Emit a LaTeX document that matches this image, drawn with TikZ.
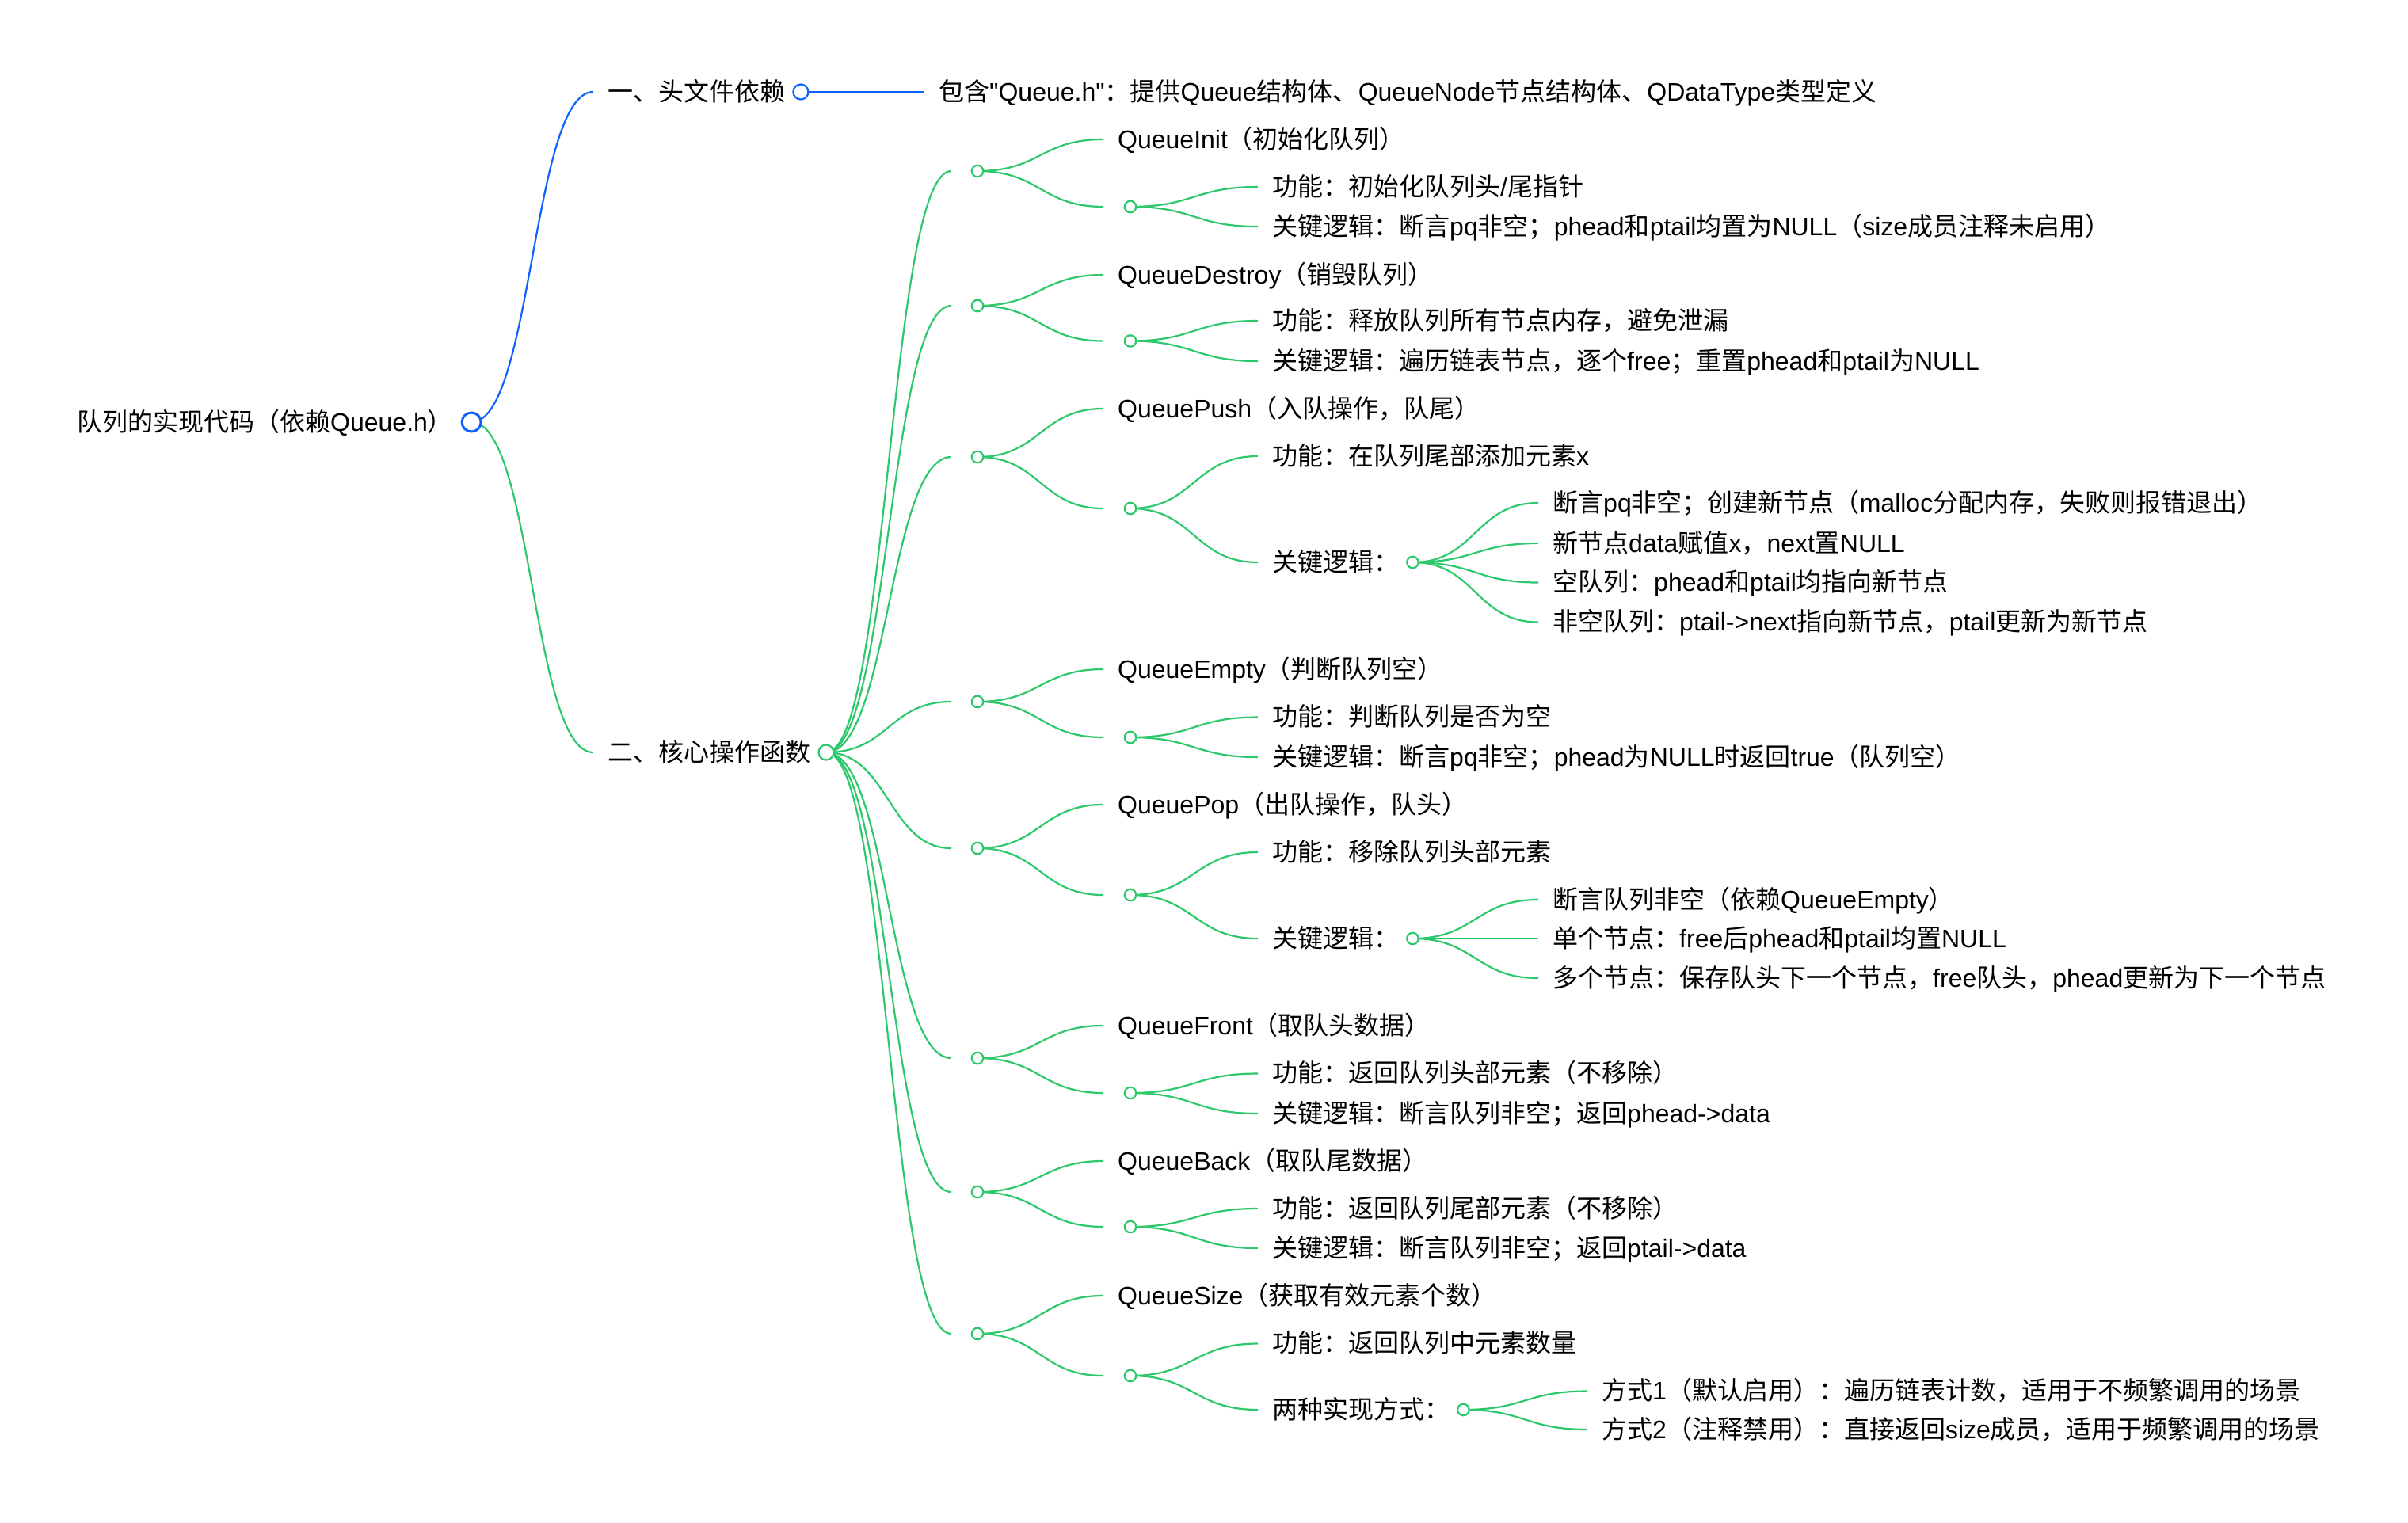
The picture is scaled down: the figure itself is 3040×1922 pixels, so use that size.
\documentclass[tikz,border=0pt]{standalone}
\usepackage{fontspec}
\setmainfont{Liberation Sans}[Ligatures=TeXOff]
\newfontfamily\latinfont{Liberation Sans}[Ligatures=TeXOff]
\newfontfamily\cjkfont{Noto Sans CJK SC}[Ligatures=TeXOff]
\usetikzlibrary{calc}
\pgfdeclarelayer{bg}
\pgfsetlayers{bg,main}
\XeTeXinterchartokenstate=1
\newXeTeXintercharclass\CJKcls
\newcount\cjkc
\def\setcjkrange#1#2{\cjkc=#1\relax\loop\XeTeXcharclass\cjkc=\CJKcls\relax\advance\cjkc by 1\relax\ifnum\cjkc<#2\relax\repeat}
\setcjkrange{"3000}{"3040}
\setcjkrange{"4E00}{"A000}
\setcjkrange{"FF00}{"FFF0}
\XeTeXinterchartoks 0 \CJKcls = {\cjkfont}
\XeTeXinterchartoks 4095 \CJKcls = {\cjkfont}
\XeTeXinterchartoks \CJKcls 0 = {\latinfont}
\definecolor{mgreen}{HTML}{2DC86B}
\definecolor{mblue}{HTML}{1062FE}
\newcommand\lk[3]{\begin{pgfonlayer}{bg}\draw[link,#3] let \p1=(#1), \p2=(#2) in (\p1) .. controls ({0.5*\x1+0.5*\x2},\y1) and ({0.5*\x1+0.5*\x2},\y2) .. (\p2);\end{pgfonlayer}}
\newcommand\cnode[5]{\node[txt] (#2) at (#3+18,#4) {#5};\lk{#1}{[xshift=-18pt]#2.west}{mgreen}}
\newcommand\gnode[5]{%
 \coordinate (#1e) at (1201,#2);
 \node[dot,draw=mgreen] (#1c) at (1234,#2) {};
 \node[txt] (#1t) at (1411,#3) {#4};
 \coordinate (#1f) at (1393,#5);
 \node[dot,draw=mgreen] (#1d) at (1427,#5) {};
 \lk{h2c}{#1e}{mgreen}
 \lk{#1c}{[xshift=-18pt]#1t.west}{mgreen}
 \lk{#1c}{#1f}{mgreen}}
\begin{document}
\begin{tikzpicture}[x=1pt,y=-1pt,
  every node/.style={font=\latinfont\fontsize{32}{38}\selectfont},
  txt/.style={anchor=west, inner sep=0pt, text height=27pt, text depth=5pt, text=black},
  link/.style={line width=2.2pt},
  dot/.style={circle, inner sep=0pt, minimum size=14.5pt, line width=2.2pt, fill=white}]
\useasboundingbox (0,0) rectangle (3040,1922);
% root
\node[txt] (root) at (97,533) {队列的实现代码（依赖Queue.h）};
\node[dot, draw=mblue, minimum size=24pt, line width=3pt] (rc) at ([xshift=23pt]root.east) {};
% level 1
\node[txt] (h1) at (767,116) {一、头文件依赖};
\node[dot, draw=mblue, minimum size=19pt] (h1c) at ([xshift=19.5pt]h1.east) {};
\node[txt] (h1a) at (1185,116) {包含"Queue.h"：提供Queue结构体、QueueNode节点结构体、QDataType类型定义};
\node[txt] (h2) at (767,950) {二、核心操作函数};
\node[dot, draw=mgreen, minimum size=19pt] (h2c) at ([xshift=19.5pt]h2.east) {};
\lk{rc}{[xshift=-18pt]h1.west}{mblue}
\lk{rc}{[xshift=-18pt]h2.west}{mgreen}
\lk{h1c}{[xshift=-18pt]h1a.west}{mblue}
% G1
\gnode{ga}{216}{176}{QueueInit（初始化队列）}{261}
\cnode{gad}{ga1}{1588}{236}{功能：初始化队列头/尾指针}
\cnode{gad}{ga2}{1588}{286}{关键逻辑：断言pq非空；phead和ptail均置为NULL（size成员注释未启用）}
% G2
\gnode{gb}{386}{347}{QueueDestroy（销毁队列）}{430.5}
\cnode{gbd}{gb1}{1588}{405}{功能：释放队列所有节点内存，避免泄漏}
\cnode{gbd}{gb2}{1588}{456}{关键逻辑：遍历链表节点，逐个free；重置phead和ptail为NULL}
% G3
\gnode{gc}{577}{516}{QueuePush（入队操作，队尾）}{642}
\cnode{gcd}{gc1}{1588}{576}{功能：在队列尾部添加元素x}
\cnode{gcd}{gc2}{1588}{710}{关键逻辑：}
\node[dot,draw=mgreen] (gc2c) at ([xshift=17pt]gc2.east) {};
\cnode{gc2c}{gc3}{1942}{635}{断言pq非空；创建新节点（malloc分配内存，失败则报错退出）}
\cnode{gc2c}{gc4}{1942}{686}{新节点data赋值x，next置NULL}
\cnode{gc2c}{gc5}{1942}{735.5}{空队列：phead和ptail均指向新节点}
\cnode{gc2c}{gc6}{1942}{785.5}{非空队列：ptail->next指向新节点，ptail更新为新节点}
% G4
\gnode{gd}{886}{845}{QueueEmpty（判断队列空）}{931}
\cnode{gdd}{gd1}{1588}{905.5}{功能：判断队列是否为空}
\cnode{gdd}{gd2}{1588}{956}{关键逻辑：断言pq非空；phead为NULL时返回true（队列空）}
% G5
\gnode{ge}{1071}{1016}{QueuePop（出队操作，队头）}{1130}
\cnode{ged}{ge1}{1588}{1076}{功能：移除队列头部元素}
\cnode{ged}{ge2}{1588}{1185}{关键逻辑：}
\node[dot,draw=mgreen] (ge2c) at ([xshift=17pt]ge2.east) {};
\cnode{ge2c}{ge3}{1942}{1136}{断言队列非空（依赖QueueEmpty）}
\cnode{ge2c}{ge4}{1942}{1185}{单个节点：free后phead和ptail均置NULL}
\cnode{ge2c}{ge5}{1942}{1235}{多个节点：保存队头下一个节点，free队头，phead更新为下一个节点}
% G6
\gnode{gf}{1336}{1295}{QueueFront（取队头数据）}{1380}
\cnode{gfd}{gf1}{1588}{1355.5}{功能：返回队列头部元素（不移除）}
\cnode{gfd}{gf2}{1588}{1406}{关键逻辑：断言队列非空；返回phead->data}
% G7
\gnode{gg}{1505}{1466}{QueueBack（取队尾数据）}{1549}
\cnode{ggd}{gg1}{1588}{1526}{功能：返回队列尾部元素（不移除）}
\cnode{ggd}{gg2}{1588}{1576}{关键逻辑：断言队列非空；返回ptail->data}
% G8
\gnode{gh}{1684}{1636}{QueueSize（获取有效元素个数）}{1737}
\cnode{ghd}{gh1}{1588}{1696.5}{功能：返回队列中元素数量}
\cnode{ghd}{gh2}{1588}{1780}{两种实现方式：}
\node[dot,draw=mgreen] (gh2c) at ([xshift=17pt]gh2.east) {};
\cnode{gh2c}{gh3}{2004}{1756.5}{方式1（默认启用）：遍历链表计数，适用于不频繁调用的场景}
\cnode{gh2c}{gh4}{2004}{1805}{方式2（注释禁用）：直接返回size成员，适用于频繁调用的场景}
\end{tikzpicture}
\end{document}
